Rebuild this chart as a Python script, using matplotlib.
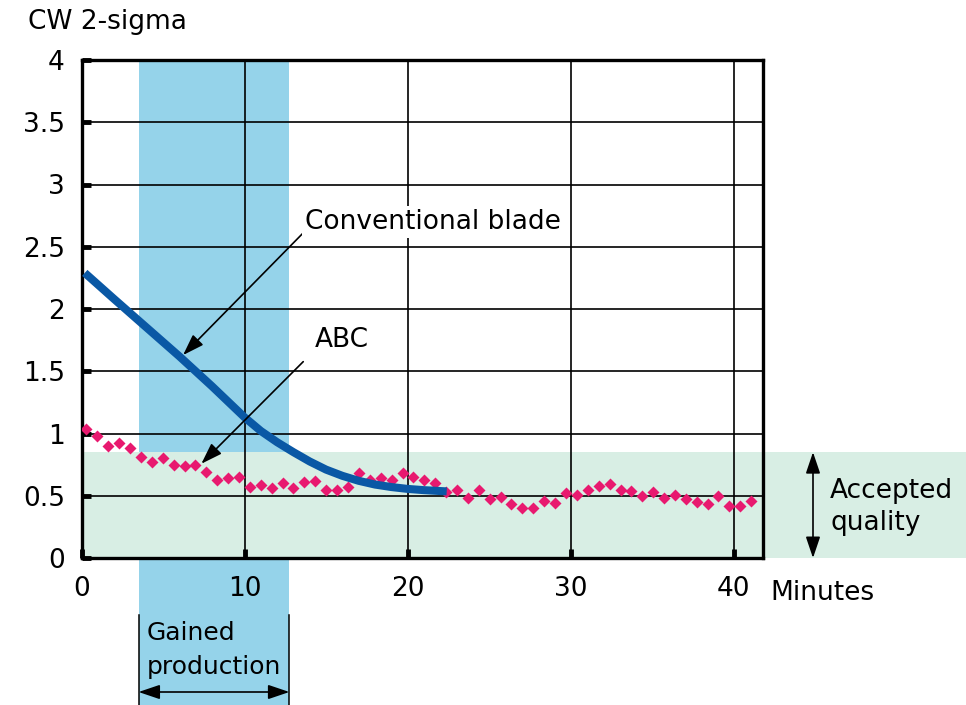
import matplotlib
matplotlib.use('Agg')
import matplotlib.pyplot as plt
from matplotlib import transforms
from matplotlib.patches import Rectangle

plt.rcParams['font.family'] = ['DejaVu Sans']

# Conventional blade: CW 2-sigma vs minutes
conv_minutes = [0.2, 2, 4, 6, 8, 10, 11, 12, 13, 14, 15, 16, 17, 18, 19, 20, 21, 22.4]
conv_sigma = [2.29, 2.08, 1.85, 1.62, 1.38, 1.13, 1.02, 0.93, 0.85, 0.775, 0.71,
              0.66, 0.62, 0.59, 0.57, 0.555, 0.545, 0.535]

# ABC samples
abc_minutes = [0.30, 0.97, 1.64, 2.31, 2.97, 3.64, 4.31, 4.98, 5.65, 6.32,
               6.99, 7.65, 8.32, 8.99, 9.66, 10.33, 11.00, 11.66, 12.33, 13.00,
               13.67, 14.34, 15.01, 15.68, 16.34, 17.01, 17.68, 18.35, 19.02, 19.69,
               20.36, 21.02, 21.69, 22.36, 23.03, 23.70, 24.37, 25.03, 25.70, 26.37,
               27.04, 27.71, 28.38, 29.05, 29.71, 30.38, 31.05, 31.72, 32.39, 33.06,
               33.73, 34.39, 35.06, 35.73, 36.40, 37.07, 37.74, 38.41, 39.07, 39.74,
               40.41, 41.08]
abc_sigma = [1.04, 0.98, 0.90, 0.92, 0.88, 0.81, 0.77, 0.80, 0.75, 0.74,
             0.75, 0.69, 0.63, 0.64, 0.65, 0.57, 0.59, 0.565, 0.60, 0.565,
             0.61, 0.62, 0.55, 0.55, 0.57, 0.68, 0.63, 0.64, 0.63, 0.685,
             0.65, 0.63, 0.60, 0.53, 0.55, 0.48, 0.55, 0.47, 0.49, 0.43,
             0.40, 0.40, 0.46, 0.44, 0.52, 0.51, 0.55, 0.58, 0.595, 0.55,
             0.54, 0.50, 0.53, 0.48, 0.51, 0.47, 0.45, 0.43, 0.50, 0.42,
             0.42, 0.46]

x_ticks = [0, 10, 20, 30, 40]
y_ticks = [0, 0.5, 1, 1.5, 2, 2.5, 3, 3.5, 4]
y_ticklabels = ['0', '0.5', '1', '1.5', '2', '2.5', '3', '3.5', '4']

gain_start, gain_end = 3.5, 12.75   # gained production window (minutes)
accept_limit = 0.85                 # accepted quality upper limit

band_blue = '#95d3ea'
band_green = '#d8eee4'
line_blue = '#0a58a5'
pink = '#e8196f'
fs = 19

W, H = 966, 705
fig = plt.figure(figsize=(W / 100, H / 100), dpi=100)
ax = fig.add_axes([81.5 / W, 1 - 558 / H, (763 - 81.5) / W, (558 - 60) / H])
ax.set_xlim(0, 41.8)
ax.set_ylim(0, 4)

x_data_y_fig = transforms.blended_transform_factory(ax.transData, fig.transFigure)
x_fig_y_data = transforms.blended_transform_factory(fig.transFigure, ax.transData)

# shaded bands
ax.add_patch(Rectangle((gain_start, 0), gain_end - gain_start, 1 - 60 / H,
                       transform=x_data_y_fig, facecolor=band_blue, edgecolor='none',
                       zorder=0, clip_on=False))
ax.add_patch(Rectangle((81.5 / W, 0), 1 - 81.5 / W, accept_limit,
                       transform=x_fig_y_data, facecolor=band_green, edgecolor='none',
                       zorder=0.5, clip_on=False))

ax.grid(True, color='black', linewidth=1.2)
ax.set_xticks(x_ticks)
ax.set_yticks(y_ticks)
ax.set_yticklabels(y_ticklabels)
ax.tick_params(direction='in', length=6.5, width=3.5, labelsize=fs, colors='black')
ax.tick_params(axis='x', pad=13)
ax.tick_params(axis='y', pad=12)
for s in ax.spines.values():
    s.set_linewidth(2.4)

ax.plot(abc_minutes, abc_sigma, linestyle='none', marker='D', markersize=6.5,
        color=pink, markeredgecolor='none', zorder=3)
ax.plot(conv_minutes, conv_sigma, color=line_blue, linewidth=5.8,
        solid_capstyle='butt', solid_joinstyle='round', zorder=4)

arrow = dict(arrowstyle='-|>,head_length=0.65,head_width=0.22', color='black',
             lw=1.2, mutation_scale=20, shrinkA=0, shrinkB=0)
ax.annotate('', xy=(6.23, 1.63), xytext=(13.59, 2.61), arrowprops=arrow, zorder=5)
ax.annotate('', xy=(7.35, 0.757), xytext=(13.6, 1.577), arrowprops=arrow, zorder=5)
ax.text(13.7, 2.70, 'Conventional blade', ha='left', va='center', fontsize=fs,
        bbox=dict(facecolor='white', edgecolor='none', pad=2), zorder=6)
ax.text(14.3, 1.75, 'ABC', ha='left', va='center', fontsize=fs,
        bbox=dict(facecolor='white', edgecolor='none', pad=2), zorder=6)

# axis titles
fig.text(28 / W, 1 - 22 / H, 'CW 2-sigma', ha='left', va='center', fontsize=fs)
fig.text(770 / W, 1 - 593 / H, 'Minutes', ha='left', va='center', fontsize=fs)

# gained production marker below the axis
for xe in (gain_start, gain_end):
    ax.plot([xe, xe], [0, 1 - 615 / H], transform=x_data_y_fig, color='black',
            lw=1.1, clip_on=False, zorder=5)
dbl = dict(arrowstyle='<|-|>,head_length=0.65,head_width=0.22', color='black',
           lw=1.2, mutation_scale=20, shrinkA=0, shrinkB=0)
ax.annotate('', xy=(gain_end, 1 - 692 / H), xytext=(gain_start, 1 - 692 / H),
            xycoords=x_data_y_fig, textcoords=x_data_y_fig, arrowprops=dbl,
            annotation_clip=False)
fig.text(147 / W, 1 - 633 / H, 'Gained', ha='left', va='center', fontsize=18)
fig.text(147 / W, 1 - 667 / H, 'production', ha='left', va='center', fontsize=18)

# accepted quality marker
ax.annotate('', xy=(813 / W, accept_limit), xytext=(813 / W, 0),
            xycoords=x_fig_y_data, textcoords=x_fig_y_data, arrowprops=dbl,
            annotation_clip=False)
fig.text(830 / W, 1 - 491 / H, 'Accepted', ha='left', va='center', fontsize=fs)
fig.text(830 / W, 1 - 523 / H, 'quality', ha='left', va='center', fontsize=fs)

fig.savefig('out.png', dpi=100)
